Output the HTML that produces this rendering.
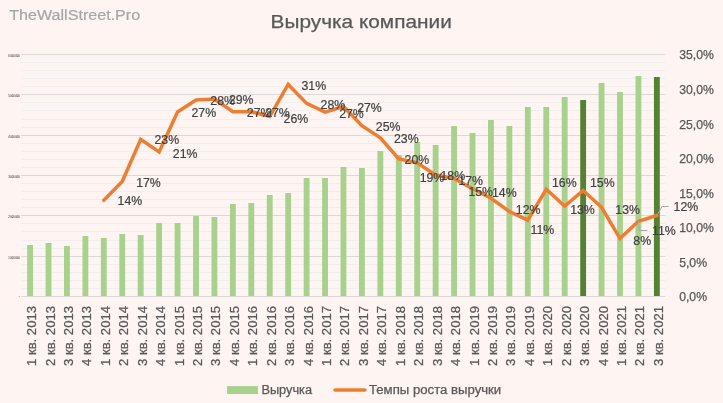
<!DOCTYPE html>
<html lang="ru"><head><meta charset="utf-8"><title>Выручка компании</title>
<style>html,body{margin:0;padding:0;background:#FEF4F1;}body{width:723px;height:403px;overflow:hidden;}svg{display:block;font-family:"Liberation Sans",sans-serif;}</style></head><body>
<svg width="723" height="403" viewBox="0 0 723 403">
<rect width="723" height="403" fill="#FEF4F1"/>
<g stroke="#EEF0F0" stroke-width="1">
<line x1="21.5" x2="665.4" y1="288.50" y2="288.50"/>
<line x1="21.5" x2="665.4" y1="280.50" y2="280.50"/>
<line x1="21.5" x2="665.4" y1="272.50" y2="272.50"/>
<line x1="21.5" x2="665.4" y1="264.50" y2="264.50"/>
<line x1="21.5" x2="665.4" y1="248.50" y2="248.50"/>
<line x1="21.5" x2="665.4" y1="240.50" y2="240.50"/>
<line x1="21.5" x2="665.4" y1="231.50" y2="231.50"/>
<line x1="21.5" x2="665.4" y1="223.50" y2="223.50"/>
<line x1="21.5" x2="665.4" y1="207.50" y2="207.50"/>
<line x1="21.5" x2="665.4" y1="199.50" y2="199.50"/>
<line x1="21.5" x2="665.4" y1="191.50" y2="191.50"/>
<line x1="21.5" x2="665.4" y1="183.50" y2="183.50"/>
<line x1="21.5" x2="665.4" y1="167.50" y2="167.50"/>
<line x1="21.5" x2="665.4" y1="159.50" y2="159.50"/>
<line x1="21.5" x2="665.4" y1="151.50" y2="151.50"/>
<line x1="21.5" x2="665.4" y1="143.50" y2="143.50"/>
<line x1="21.5" x2="665.4" y1="127.50" y2="127.50"/>
<line x1="21.5" x2="665.4" y1="119.50" y2="119.50"/>
<line x1="21.5" x2="665.4" y1="110.50" y2="110.50"/>
<line x1="21.5" x2="665.4" y1="102.50" y2="102.50"/>
<line x1="21.5" x2="665.4" y1="86.50" y2="86.50"/>
<line x1="21.5" x2="665.4" y1="78.50" y2="78.50"/>
<line x1="21.5" x2="665.4" y1="70.50" y2="70.50"/>
<line x1="21.5" x2="665.4" y1="62.50" y2="62.50"/>
</g>
<g stroke="#D9D9D9" stroke-width="1">
<line x1="21.5" x2="665.4" y1="296.50" y2="296.50"/>
<line x1="21.5" x2="665.4" y1="256.50" y2="256.50"/>
<line x1="21.5" x2="665.4" y1="215.50" y2="215.50"/>
<line x1="21.5" x2="665.4" y1="175.50" y2="175.50"/>
<line x1="21.5" x2="665.4" y1="135.50" y2="135.50"/>
<line x1="21.5" x2="665.4" y1="94.50" y2="94.50"/>
<line x1="21.5" x2="665.4" y1="54.50" y2="54.50"/>
</g>
<g font-size="2.6" fill="#151515" text-anchor="end" word-spacing="-0.3">
<text transform="translate(19.7,297.50) rotate(0.02)">-</text>
<text transform="translate(19.7,258.70) rotate(0.02) scale(1.04,1)">1 000 000</text>
<text transform="translate(19.7,217.70) rotate(0.02) scale(1.04,1)">2 000 000</text>
<text transform="translate(19.7,177.70) rotate(0.02) scale(1.04,1)">3 000 000</text>
<text transform="translate(19.7,137.70) rotate(0.02) scale(1.04,1)">4 000 000</text>
<text transform="translate(19.7,96.70) rotate(0.02) scale(1.04,1)">5 000 000</text>
<text transform="translate(19.7,56.70) rotate(0.02) scale(1.04,1)">6 000 000</text>
</g>
<g>
<rect x="27.15" y="245" width="5.85" height="51" fill="#A9D18E"/>
<rect x="45.59" y="243" width="5.85" height="53" fill="#A9D18E"/>
<rect x="64.02" y="246" width="5.85" height="50" fill="#A9D18E"/>
<rect x="82.46" y="236" width="5.85" height="60" fill="#A9D18E"/>
<rect x="100.89" y="238" width="5.85" height="58" fill="#A9D18E"/>
<rect x="119.33" y="234" width="5.85" height="62" fill="#A9D18E"/>
<rect x="137.76" y="235" width="5.85" height="61" fill="#A9D18E"/>
<rect x="156.20" y="223" width="5.85" height="73" fill="#A9D18E"/>
<rect x="174.63" y="223" width="5.85" height="73" fill="#A9D18E"/>
<rect x="193.07" y="216" width="5.85" height="80" fill="#A9D18E"/>
<rect x="211.50" y="217" width="5.85" height="79" fill="#A9D18E"/>
<rect x="229.94" y="204" width="5.85" height="92" fill="#A9D18E"/>
<rect x="248.37" y="203" width="5.85" height="93" fill="#A9D18E"/>
<rect x="266.81" y="195" width="5.85" height="101" fill="#A9D18E"/>
<rect x="285.24" y="193" width="5.85" height="103" fill="#A9D18E"/>
<rect x="303.68" y="178" width="5.85" height="118" fill="#A9D18E"/>
<rect x="322.11" y="178" width="5.85" height="118" fill="#A9D18E"/>
<rect x="340.55" y="167" width="5.85" height="129" fill="#A9D18E"/>
<rect x="358.98" y="168" width="5.85" height="128" fill="#A9D18E"/>
<rect x="377.42" y="151" width="5.85" height="145" fill="#A9D18E"/>
<rect x="395.85" y="155" width="5.85" height="141" fill="#A9D18E"/>
<rect x="414.29" y="142" width="5.85" height="154" fill="#A9D18E"/>
<rect x="432.72" y="145" width="5.85" height="151" fill="#A9D18E"/>
<rect x="451.16" y="126" width="5.85" height="170" fill="#A9D18E"/>
<rect x="469.59" y="133" width="5.85" height="163" fill="#A9D18E"/>
<rect x="488.03" y="120" width="5.85" height="176" fill="#A9D18E"/>
<rect x="506.46" y="126" width="5.85" height="170" fill="#A9D18E"/>
<rect x="524.90" y="107" width="5.85" height="189" fill="#A9D18E"/>
<rect x="543.34" y="107" width="5.85" height="189" fill="#A9D18E"/>
<rect x="561.77" y="97" width="5.85" height="199" fill="#A9D18E"/>
<rect x="580.21" y="100" width="5.85" height="196" fill="#548235"/>
<rect x="598.64" y="83" width="5.85" height="213" fill="#A9D18E"/>
<rect x="617.08" y="92" width="5.85" height="204" fill="#A9D18E"/>
<rect x="635.51" y="76" width="5.85" height="220" fill="#A9D18E"/>
<rect x="653.95" y="77" width="5.85" height="219" fill="#548235"/>
</g>
<polyline points="103.82,200.30 122.25,181.50 140.69,139.30 159.12,152.00 177.56,112.00 196.00,100.00 214.43,99.00 232.87,111.70 251.30,111.70 269.73,116.50 288.17,84.50 306.60,103.40 325.04,112.10 343.47,106.50 361.91,125.60 380.34,137.80 398.78,158.80 417.21,162.80 435.65,175.00 454.08,178.50 472.52,188.80 490.95,198.30 509.39,211.50 527.82,220.20 546.26,189.30 564.70,206.20 583.13,190.50 601.57,207.30 620.00,238.60 638.43,221.30 656.87,215.50" fill="none" stroke="#ED7D31" stroke-width="3.5" stroke-linecap="round" stroke-linejoin="miter" stroke-miterlimit="8"/>
<g fill="none" stroke="#A6A6A6" stroke-width="1">
<polyline points="656.9,215.5 662,206.5 668.6,206.5"/>
<polyline points="638.4,221.3 639.5,230.5 647.3,230.5"/>
</g>
<g font-size="12.3" fill="#404040" stroke="#404040" stroke-width="0.2">
<text x="117.60" y="205.00">14%</text>
<text x="136.20" y="186.90">17%</text>
<text x="154.50" y="143.80">23%</text>
<text x="172.80" y="158.00">21%</text>
<text x="191.50" y="117.10">27%</text>
<text x="210.30" y="104.60">28%</text>
<text x="228.90" y="104.40">29%</text>
<text x="246.80" y="117.10">27%</text>
<text x="265.20" y="117.10">27%</text>
<text x="283.60" y="123.20">26%</text>
<text x="301.50" y="89.90">31%</text>
<text x="320.60" y="109.00">28%</text>
<text x="339.20" y="118.20">27%</text>
<text x="357.20" y="112.00">27%</text>
<text x="375.80" y="131.20">25%</text>
<text x="394.00" y="143.20">23%</text>
<text x="404.60" y="163.80">20%</text>
<text x="419.70" y="182.00">19%</text>
<text x="440.50" y="179.70">18%</text>
<text x="458.40" y="184.80">17%</text>
<text x="468.40" y="196.10">15%</text>
<text x="492.00" y="197.00">14%</text>
<text x="515.80" y="213.90">12%</text>
<text x="530.60" y="233.80">11%</text>
<text x="552.00" y="186.80">16%</text>
<text x="570.20" y="214.10">13%</text>
<text x="590.00" y="187.30">15%</text>
<text x="615.30" y="213.90">13%</text>
<text x="633.30" y="245.20">8%</text>
<text x="652.10" y="235.00">11%</text>
<text x="673.60" y="211.10">12%</text>
</g>
<g font-size="12.2" fill="#595959" stroke="#595959" stroke-width="0.25">
<text x="679.2" y="301.37">0,0%</text>
<text x="679.2" y="266.80">5,0%</text>
<text x="679.2" y="232.22">10,0%</text>
<text x="679.2" y="197.65">15,0%</text>
<text x="679.2" y="163.08">20,0%</text>
<text x="679.2" y="128.51">25,0%</text>
<text x="679.2" y="93.94">30,0%</text>
<text x="679.2" y="59.37">35,0%</text>
</g>
<g font-size="13.1" fill="#595959" stroke="#595959" stroke-width="0.25" text-anchor="end">
<text transform="translate(36.07,306.0) rotate(-90)">1 кв. 2013</text>
<text transform="translate(54.50,306.0) rotate(-90)">2 кв. 2013</text>
<text transform="translate(72.94,306.0) rotate(-90)">3 кв. 2013</text>
<text transform="translate(91.37,306.0) rotate(-90)">4 кв. 2013</text>
<text transform="translate(109.81,306.0) rotate(-90)">1 кв. 2014</text>
<text transform="translate(128.24,306.0) rotate(-90)">2 кв. 2014</text>
<text transform="translate(146.68,306.0) rotate(-90)">3 кв. 2014</text>
<text transform="translate(165.11,306.0) rotate(-90)">4 кв. 2014</text>
<text transform="translate(183.55,306.0) rotate(-90)">1 кв. 2015</text>
<text transform="translate(201.98,306.0) rotate(-90)">2 кв. 2015</text>
<text transform="translate(220.42,306.0) rotate(-90)">3 кв. 2015</text>
<text transform="translate(238.85,306.0) rotate(-90)">4 кв. 2015</text>
<text transform="translate(257.29,306.0) rotate(-90)">1 кв. 2016</text>
<text transform="translate(275.72,306.0) rotate(-90)">2 кв. 2016</text>
<text transform="translate(294.16,306.0) rotate(-90)">3 кв. 2016</text>
<text transform="translate(312.59,306.0) rotate(-90)">4 кв. 2016</text>
<text transform="translate(331.03,306.0) rotate(-90)">1 кв. 2017</text>
<text transform="translate(349.46,306.0) rotate(-90)">2 кв. 2017</text>
<text transform="translate(367.90,306.0) rotate(-90)">3 кв. 2017</text>
<text transform="translate(386.33,306.0) rotate(-90)">4 кв. 2017</text>
<text transform="translate(404.77,306.0) rotate(-90)">1 кв. 2018</text>
<text transform="translate(423.20,306.0) rotate(-90)">2 кв. 2018</text>
<text transform="translate(441.64,306.0) rotate(-90)">3 кв. 2018</text>
<text transform="translate(460.07,306.0) rotate(-90)">4 кв. 2018</text>
<text transform="translate(478.51,306.0) rotate(-90)">1 кв. 2019</text>
<text transform="translate(496.94,306.0) rotate(-90)">2 кв. 2019</text>
<text transform="translate(515.38,306.0) rotate(-90)">3 кв. 2019</text>
<text transform="translate(533.81,306.0) rotate(-90)">4 кв. 2019</text>
<text transform="translate(552.25,306.0) rotate(-90)">1 кв. 2020</text>
<text transform="translate(570.68,306.0) rotate(-90)">2 кв. 2020</text>
<text transform="translate(589.12,306.0) rotate(-90)">3 кв. 2020</text>
<text transform="translate(607.55,306.0) rotate(-90)">4 кв. 2020</text>
<text transform="translate(625.99,306.0) rotate(-90)">1 кв. 2021</text>
<text transform="translate(644.42,306.0) rotate(-90)">2 кв. 2021</text>
<text transform="translate(662.86,306.0) rotate(-90)">3 кв. 2021</text>
</g>
<rect x="227" y="386.1" width="30.9" height="7.9" fill="#A9D18E"/>
<text x="261.4" y="393.8" font-size="12.0" fill="#595959" stroke="#595959" stroke-width="0.25" textLength="50.6" lengthAdjust="spacingAndGlyphs">Выручка</text>
<line x1="335" x2="364.9" y1="389.9" y2="389.9" stroke="#ED7D31" stroke-width="3.5" stroke-linecap="round"/>
<text x="369.0" y="393.8" font-size="12.0" fill="#595959" stroke="#595959" stroke-width="0.25" textLength="132.2" lengthAdjust="spacingAndGlyphs">Темпы роста выручки</text>
<text x="270.6" y="27.6" font-size="18.4" fill="#595959" stroke="#595959" stroke-width="0.25" textLength="181.2" lengthAdjust="spacingAndGlyphs">Выручка компании</text>
<text x="9.2" y="19.5" font-size="14.7" fill="#A6A6A6" stroke="#A6A6A6" stroke-width="0.2" textLength="131" lengthAdjust="spacingAndGlyphs">TheWallStreet.Pro</text>
</svg></body></html>
